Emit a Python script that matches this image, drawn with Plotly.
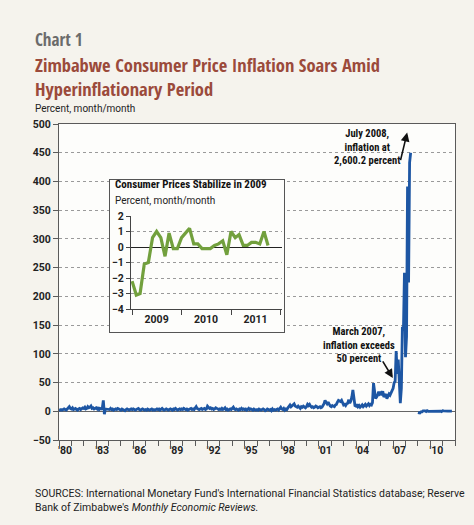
import plotly.graph_objects as go
import pandas as pd

# ---------------- data (month/month CPI inflation, percent) ----------------
cpi_1980_1989 = [
    3, 2, 3, 2, 3, 4, 3, 2, 4, 6, 8, 5,
    4, 6, 3, 4, 5, 3, 2, 4, 5, 3, 4, 6,
    5, 7, 4, 5, 8, 6, 7, 9, 5, 6, 4, 5,
    6, 4, 7, 3, 5, 4, 5, 19, -5, 4, 4, 3,
    4, 3, 5, 3, 4, 2, 3, 4, 3, 5, 4, 3,
    2, 4, 3, 2, 1, 3, 4, 3, 2, 3, 4, 3,
    4, 3, 2, 3, 4, 5, 3, 2, 3, 4, 3, 2,
    3, 2, 4, 3, 2, 3, 4, 2, 3, 2, 3, 4,
    3, 4, 2, 3, 5, 3, 2, 3, 4, 3, 2, 3,
    4, 3, 2, 4, 3, 5, 3, 2, 3, 4, 3, 4,
]
cpi_1990_1999 = [
    3, 5, 4, 3, 4, 2, 3, 4, 5, 3, 4, 3,
    6, 8, 5, 4, 3, 4, 5, 3, 4, 5, 3, 4,
    9, 7, 5, 6, 4, 5, 3, 4, 6, 5, 4, 3,
    4, 3, 5, 3, 4, 6, 3, 4, 2, 3, 4, 3,
    5, 7, 4, 3, 4, 3, 2, 4, 3, 5, 3, 4,
    3, 4, 2, 3, 5, 3, 4, 3, 2, 4, 3, 2,
    3, 2, 4, 3, 2, 3, 4, 3, 1, 2, 4, 3,
    2, 3, 1, 4, 2, 3, 2, 3, 4, 2, 5, 7,
    4, 3, 5, 2, 4, 3, 6, 9, 11, 8, 10, 12,
    13, 9, 8, 7, 9, 6, 5, 8, 7, 9, 8, 6,
]
cpi_2000_2006 = [
    8, 12, 10, 12, 9, 7, 8, 6, 7, 9, 8, 6,
    7, 8, 6, 7, 10, 13, 19, 15, 13, 16, 11, 9,
    8, 10, 9, 8, 11, 12, 16, 19, 18, 17, 19, 15,
    11, 12, 10, 13, 14, 20, 14, 18, 25, 37, 20, 10,
    9, 12, 8, 10, 7, 9, 11, 8, 10, 12, 9, 11,
    13, 10, 12, 11, 15, 49, 30, 22, 25, 28, 34, 30,
    32, 28, 35, 25, 27, 30, 22, 27, 30, 28, 33, 35,
]
cpi_2007_2008 = [
    40, 50, 52, 105, 65, 90, 40, 14, 40, 147, 140, 241,
    94, 130, 391, 224, 433, 450,
]
cpi_2009_2011 = [
    -2.2, -3.1, -3.0, -1.1, -1.0, 0.6, 1.0, 0.6, -0.6, 0.9, -0.1, -0.1,
    0.6, 0.9, 1.2, 0.2, 0.2, -0.1, -0.1, -0.1, 0.1, 0.2, 0.4, -0.5,
    1.0, 0.6, 0.8, 0.1, 0.1, 0.3, 0.3, 0.2, 1.0, 0.1,
]
missing_2008 = 6  # Jul-Dec 2008 not shown

main_tick_years = [1980, 1983, 1986, 1989, 1992, 1995, 1998, 2001, 2004, 2007, 2010]
main_tick_labels = ["'80", "'83", "'86", "'89", "'92", "'95", "'98", "'01", "'04", "'07", "'10"]
inset_tick_years = [2009, 2010, 2011]
inset_tick_labels = ["2009", "2010", "2011"]

# ---------------- build series ----------------
pre = cpi_1980_1989 + cpi_1990_1999 + cpi_2000_2006 + cpi_2007_2008
y_main = pre + [None] * missing_2008 + cpi_2009_2011
x_main = pd.date_range("1980-01-01", periods=len(y_main), freq="MS")
x_inset = pd.date_range("2009-01-01", periods=len(cpi_2009_2011), freq="MS")

TITLEF = "Open Sans Condensed, Roboto Condensed, sans-serif"
COND = "Roboto Condensed, sans-serif"
REG = "Roboto, sans-serif"
PAPER = "#f5f3ed"
PLOTBG = "#fdfdfb"
AXC = "#5a5a5a"
BLUE = "#1d56a3"
GREEN = "#72a03d"

W, H = 474, 525
L, R, T, B = 59, 455, 124, 440


def px(xp):
    return (xp - L) / (R - L)


def py(yp):
    return (B - yp) / (B - T)


fig = go.Figure()
fig.add_trace(go.Scatter(x=x_main, y=y_main, mode="lines",
                         line=dict(color=BLUE, width=2.8),
                         connectgaps=False, showlegend=False, hoverinfo="skip"))
# inset frame subplot (empty)
fig.add_trace(go.Scatter(x=[None], y=[None], xaxis="x2", yaxis="y2",
                         showlegend=False, hoverinfo="skip"))
# inset data
fig.add_trace(go.Scatter(x=x_inset, y=cpi_2009_2011, xaxis="x3", yaxis="y3",
                         mode="lines", line=dict(color=GREEN, width=3.2),
                         showlegend=False, hoverinfo="skip"))

tickfont = dict(family=REG, size=10.5, color="#222", weight="bold")

fig.update_layout(
    width=W, height=H,
    margin=dict(l=L, r=W - R, t=T, b=H - B),
    paper_bgcolor=PAPER, plot_bgcolor=PLOTBG,
    font=dict(family=REG, color="#222"),
    xaxis=dict(
        type="date", range=["1980-01-01", "2012-01-01"],
        tickmode="array",
        tickvals=[f"{y}-07-01" for y in main_tick_years],
        ticktext=main_tick_labels,
        ticks="", tickfont=tickfont,
        minor=dict(tickmode="linear", tick0="1980-01-01", dtick="M12",
                   ticks="outside", ticklen=5, tickcolor=AXC, showgrid=False),
        showgrid=False, zeroline=False,
        showline=True, linecolor=AXC, linewidth=1, mirror=True,
    ),
    yaxis=dict(
        range=[-50, 500], tickmode="linear", tick0=-50, dtick=50,
        ticks="outside", ticklen=5, tickcolor=AXC, tickfont=tickfont,
        showgrid=True, gridcolor="#9a9a9a", griddash="dot", gridwidth=1,
        zeroline=True, zerolinecolor="#666", zerolinewidth=1.2,
        showline=True, linecolor=AXC, linewidth=1, mirror=True,
    ),
    xaxis2=dict(domain=[px(110), px(284)], anchor="y2", range=[0, 1],
                showgrid=False, zeroline=False, showticklabels=False,
                showline=True, linecolor="#555", linewidth=1.2, mirror=True,
                fixedrange=True),
    yaxis2=dict(domain=[py(332), py(180)], anchor="x2", range=[0, 1],
                showgrid=False, zeroline=False, showticklabels=False,
                showline=True, linecolor="#555", linewidth=1.2, mirror=True,
                fixedrange=True),
    xaxis3=dict(domain=[px(131), px(282)], anchor="y3", type="date",
                range=["2008-12-24", "2012-01-12"],
                tickmode="array",
                tickvals=[f"{y}-07-01" for y in inset_tick_years],
                ticktext=inset_tick_labels, ticks="", tickfont=tickfont,
                minor=dict(tickmode="linear", tick0="2009-01-01", dtick="M12",
                           ticks="outside", ticklen=5, tickcolor="#444",
                           showgrid=False),
                showgrid=False, zeroline=False,
                showline=True, linecolor="#444", linewidth=1),
    yaxis3=dict(domain=[py(309), py(216)], anchor="x3",
                range=[-4, 2], tickmode="linear", tick0=-4, dtick=1,
                ticks="outside", ticklen=4, tickcolor="#444", tickfont=tickfont,
                showgrid=True, gridcolor="#9a9a9a", griddash="dot", gridwidth=1,
                zeroline=True, zerolinecolor="#222", zerolinewidth=1.3,
                showline=True, linecolor="#444", linewidth=1),
)

ann = []
ann.append(dict(text="<b>Chart 1</b>", x=px(33), y=py(39.5), xref="paper", yref="paper",
                xanchor="left", yanchor="middle", showarrow=False,
                font=dict(family=TITLEF, size=17, color="#6b6b6b")))
ann.append(dict(text="<b>Zimbabwe Consumer Price Inflation Soars Amid<br>Hyperinflationary Period</b>",
                x=px(33), y=py(76), xref="paper", yref="paper", align="left",
                xanchor="left", yanchor="middle", showarrow=False,
                font=dict(family=TITLEF, size=18.5, color="#9b4a3b")))
ann.append(dict(text="Percent, month/month", x=px(33), y=py(108.5), xref="paper", yref="paper",
                xanchor="left", yanchor="middle", showarrow=False,
                font=dict(family=REG, size=10, color="#222")))
ann.append(dict(text="SOURCES: International Monetary Fund's International Financial Statistics database; Reserve<br>"
                     "Bank of Zimbabwe's <i>Monthly Economic Reviews.</i>",
                x=px(33), y=py(500.5), xref="paper", yref="paper", align="left",
                xanchor="left", yanchor="middle", showarrow=False,
                font=dict(family=REG, size=10.5, color="#222")))
# inset titles
ann.append(dict(text="<b>Consumer Prices Stabilize in 2009</b>", x=px(113), y=py(184),
                xref="paper", yref="paper", xanchor="left", yanchor="middle", showarrow=False,
                font=dict(family=COND, size=11, color="#111")))
ann.append(dict(text="Percent, month/month", x=px(113), y=py(200),
                xref="paper", yref="paper", xanchor="left", yanchor="middle", showarrow=False,
                font=dict(family=REG, size=10, color="#222")))
# callouts
ann.append(dict(text="<b>July 2008,<br>inflation at<br>2,600.2 percent</b>", x=px(367), y=py(147),
                xref="paper", yref="paper", xanchor="center", yanchor="middle", align="center",
                showarrow=False, font=dict(family=COND, size=10.5, color="#111")))
ann.append(dict(text="", x="2008-02-20", y=485, xref="x", yref="y",
                showarrow=True, ax=-7, ay=29, arrowhead=2, arrowsize=1.1,
                arrowwidth=1.6, arrowcolor="#111", standoff=0))
ann.append(dict(text="<b>March 2007,<br>inflation exceeds<br>50 percent</b>", x=px(359), y=py(345),
                xref="paper", yref="paper", xanchor="center", yanchor="middle", align="center",
                showarrow=False, font=dict(family=COND, size=10.5, color="#111")))
ann.append(dict(text="", x="2006-12-24", y=58, xref="x", yref="y",
                showarrow=True, ax=-11, ay=-18, arrowhead=2, arrowsize=1.1,
                arrowwidth=1.6, arrowcolor="#111", standoff=0))
fig.update_layout(annotations=ann)

fig.write_html(
    "out.html",
    config={"displayModeBar": False},
    post_script="document.body.style.margin='0px';"
                "document.body.style.backgroundColor='" + PAPER + "';",
)
